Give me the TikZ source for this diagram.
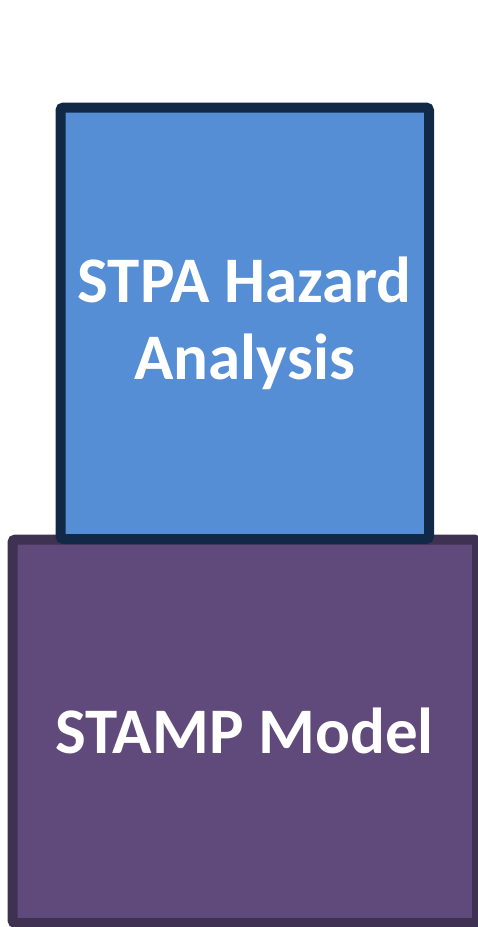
\documentclass[tikz,border=0pt]{standalone}
\usepackage{fontspec}
\setmainfont{Carlito}
\usepackage{tikz}
\usetikzlibrary{positioning}
\definecolor{stpafill}{HTML}{558ED5}
\definecolor{stpaline}{HTML}{112846}
\definecolor{stampfill}{HTML}{604A7B}
\definecolor{stampline}{HTML}{3F3151}
\tikzstyle{layer}=[draw,line width=10pt,rounded corners=3pt,text=white,
                   font=\fontsize{65}{77}\selectfont\bfseries,align=center,inner sep=0pt]
\tikzstyle{stpa}=[layer,fill=stpafill,draw=stpaline,minimum width=368.5pt,minimum height=431.5pt]
\tikzstyle{stamp}=[layer,fill=stampfill,draw=stampline,minimum width=464.5pt,minimum height=383.5pt]

\begin{document}
\begin{tikzpicture}[x=1pt,y=-1pt]
\useasboundingbox (0,0) rectangle (477,927);
\node[stamp] (stamp) at (244.75,731.25) {STAMP Model};
\node[stpa] (stpa) at (244.75,323.25) {STPA Hazard\\Analysis};
\end{tikzpicture}
\end{document}
